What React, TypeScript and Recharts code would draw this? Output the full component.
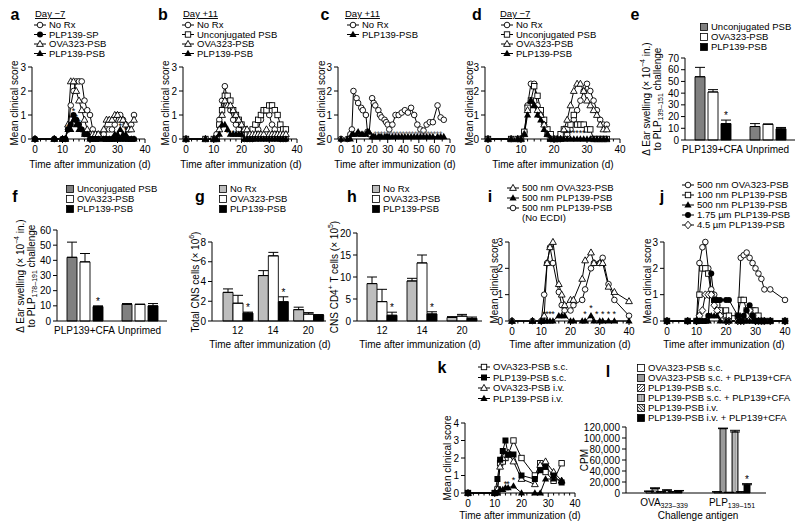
import React from 'react'
import { ComposedChart, BarChart, Line, Bar, Scatter, XAxis, YAxis, ErrorBar, LabelList } from 'recharts'

const FONT = '"Liberation Sans", Arial, sans-serif'
const DARK = '#808080'
const LIGHT = '#bdbdbd'

// ---- a : Day -7 ----
const aDays = [0, 7, 10, 11, 12, 13, 14, 15, 16, 17, 18, 19, 20, 21, 22, 23, 25, 26, 27, 28, 29, 30, 31, 32, 33, 34, 35, 36]
const aNoRx = [0, 0, 0, 0, 0.4, 1.4, 2.0, 2.4, 2.4, 2.4, 1.6, 1.2, 1.0, 0.4, 0.2, 0.2, 0.2, 0.4, 0.4, 0.4, 0.6, 1.0, 1.0, 0.8, 0.6, 0.4, 0.6, 1.0]
const aSP = [0, 0, 0, 0, 0.4, 0.6, 1.0, 0.8, 0.6, 0.4, 0.2, 0.2, 0, 0, 0, 0, 0, 0, 0, 0, 0, 0, 0, 0, 0, 0, 0, 0]
const aOva = [0, 0, 0, 0, 0.6, 2.4, 2.4, 2.0, 1.6, 1.2, 0.8, 0.4, 0.2, 0.2, 0.2, 0.2, 0.4, 0.8, 0.8, 0.8, 1.0, 1.0, 0.8, 0.8, 0.6, 0.4, 0.4, 0.8]
const aPlp = [0, 0, 0, 0, 0.4, 0.4, 0.8, 0.6, 0.4, 0.4, 0.2, 0.2, 0, 0, 0, 0, 0, 0, 0, 0, 0.2, 0.2, 0.4, 0.2, 0.2, 0, 0, 0]
const aStarDays = [12, 13, 14, 15, 16, 31, 33]
const aStarY = [0.55, 0.9, 1.2, 0.95, 0.75, 0.6, 0.4]

// ---- b : Day +11 ----
const bDays = [0, 7, 10, 11, 12, 13, 14, 15, 16, 17, 18, 19, 20, 21, 22, 23, 24, 25, 26, 27, 28, 29, 30, 31, 32, 33, 34, 35, 36]
const bNoRx = [0, 0, 0, 0.2, 0.8, 1.6, 2.2, 1.6, 1.2, 0.8, 0.6, 0.4, 0.2, 0, 0, 0, 0, 0.2, 0.4, 0.8, 1.2, 1.2, 1.0, 0.6, 0.4, 0.2, 0, 0, 0]
const bUnc = [0, 0, 0, 0, 0.6, 1.2, 1.8, 1.8, 1.6, 1.2, 1.0, 0.8, 0.6, 0.4, 0.2, 0.2, 0.4, 0.6, 0.8, 1.0, 1.2, 1.2, 1.4, 1.4, 1.2, 1.0, 0.6, 0.4, 0.4]
const bOva = [0, 0, 0, 0, 0.4, 1.0, 1.6, 1.4, 1.4, 1.2, 1.0, 0.8, 0.6, 0.4, 0.4, 0.2, 0.2, 0.2, 0.2, 0.2, 0.2, 0.4, 0.2, 0.2, 0.2, 0.2, 0.2, 0.2, 0.2]
const bPlp = [0, 0, 0, 0, 0.2, 0.6, 0.6, 0.4, 0.2, 0.2, 0.2, 0.2, 0.2, 0, 0, 0, 0, 0, 0, 0, 0, 0, 0, 0, 0, 0, 0, 0, 0]
const bStarDays = [15, 17]
const bStarY = [0.3, 0.3]

// ---- c : Day +11, long course ----
const cDays = [0, 4, 6, 7, 8, 10, 11, 13, 14, 16, 17, 18, 20, 21, 22, 24, 25, 26, 28, 29, 30, 31, 33, 35, 37, 39, 41, 43, 45, 47, 49, 51, 53, 55, 57, 59, 62, 64, 66]
const cNoRx = [0, 0, 0.2, 0.4, 2.0, 1.7, 1.5, 1.3, 1.2, 1.0, 0.3, 0.2, 1.7, 1.5, 1.4, 1.2, 1.0, 0.9, 0.8, 0.7, 0.6, 0.4, 0.6, 1.0, 1.0, 1.1, 1.2, 1.1, 1.3, 1.0, 0.6, 0.4, 0.35, 0.6, 0.7, 0.7, 1.4, 0.9, 0.8]
const cPlp = [0, 0, 0, 0.2, 0.2, 0.2, 0.3, 0.2, 0.2, 0.2, 0.3, 0.3, 0.1, 0.1, 0.1, 0.1, 0.1, 0.1, 0.1, 0.1, 0.1, 0.1, 0.1, 0.1, 0.1, 0.1, 0.1, 0.1, 0.1, 0.1, 0.1, 0.1, 0.1, 0.1, 0.1, 0.1, 0.1, 0.1, 0.1]
const cStarDays = [22, 24, 26, 28, 30, 32, 34, 36, 38, 40, 42, 44, 46, 48, 50, 52, 54, 56, 58, 60, 62, 64]
const cStarY = [0.25, 0.25, 0.25, 0.25, 0.25, 0.25, 0.25, 0.25, 0.25, 0.25, 0.25, 0.25, 0.25, 0.25, 0.25, 0.25, 0.25, 0.25, 0.25, 0.25, 0.25, 0.25]

// ---- d : Day -7 ----
const dDays = [0, 7, 9, 10, 11, 12, 13, 14, 15, 16, 17, 18, 19, 20, 21, 22, 23, 24, 25, 26, 27, 28, 29, 30, 31, 32, 33, 34, 35, 36]
const dNoRx = [0, 0, 0, 0, 0.3, 1.4, 2.3, 2.3, 1.4, 1.0, 0.6, 0.2, 0, 0, 0, 0, 0.2, 0.2, 0.4, 0.8, 1.2, 1.6, 2.0, 2.3, 2.0, 1.6, 1.2, 0.8, 0.6, 0.6]
const dUnc = [0, 0, 0, 0, 0.3, 1.3, 1.6, 2.2, 1.8, 1.2, 0.8, 0.4, 0.2, 0, 0, 0.2, 0.4, 0.4, 0.6, 1.0, 0.6, 0.6, 0.6, 0.4, 0.4, 0, 0, 0, 0, 0]
const dOva = [0, 0, 0, 0, 0.2, 1.2, 1.6, 1.4, 1.2, 1.0, 0.6, 0.2, 0, 0, 0, 0, 0.4, 0.8, 1.4, 2.0, 2.3, 2.3, 2.0, 1.6, 1.4, 1.2, 1.0, 0.6, 0.4, 0.4]
const dPlp = [0, 0, 0, 0, 0.2, 1.0, 1.6, 1.4, 1.0, 0.8, 0.4, 0.2, 0, 0, 0, 0, 0, 0, 0, 0, 0, 0, 0, 0, 0, 0, 0, 0, 0, 0]
const dStarDays = [24, 25, 26, 27, 28, 29]
const dStarY = [0.3, 0.3, 0.3, 0.3, 0.3, 0.3]

// ---- e : DTH, PLP139-151 challenge ----
const eCats = ['PLP139+CFA', 'Unprimed']
const eUnc = [54, 11.5]
const eOva = [41, 13.5]
const ePlp = [14, 9.5]
const eUncErr = [8, 2.5]
const eOvaErr = [2, 0]
const ePlpErr = [3, 1.2]
const eSig = [true, false]

// ---- f : DTH, PLP178-191 challenge ----
const fUnc = [42, 11]
const fOva = [39, 11]
const fPlp = [9.5, 10]
const fUncErr = [10, 0.5]
const fOvaErr = [5.5, 0]
const fPlpErr = [0.5, 1.5]
const fSig = [true, false]

// ---- g / h : CNS infiltrates ----
const ghCats = ['12', '14', '20']
const gNoRx = [2.9, 4.6, 1.15]
const gOva = [1.8, 6.6, 0.7]
const gPlp = [0.8, 1.95, 0.6]
const gNoRxErr = [0.35, 0.5, 0.25]
const gOvaErr = [0.8, 0.35, 0.15]
const gPlpErr = [0.1, 0.5, 0.05]
const ghSig = [true, true, false]
const hNoRx = [8.5, 9.1, 0.8]
const hOva = [4.4, 13.2, 1.1]
const hPlp = [1.3, 1.6, 0.6]
const hNoRxErr = [1.5, 0.6, 0.2]
const hOvaErr = [2.8, 1.8, 0.4]
const hPlpErr = [0.7, 0.5, 0.3]

// ---- i ----
const iDays = [0, 7, 10, 11, 12, 13, 14, 16, 17, 18, 20, 21, 24, 25, 27, 28, 30, 31, 33, 35, 40]
const iOva = [0, 0, 0, 0.2, 2.2, 2.8, 3.0, 1.4, 1.0, 0.6, 0.8, 0.8, 1.6, 2.3, 2.6, 2.2, 2.2, 2.2, 1.3, 1.1, 0.75]
const iPlp = [0, 0, 0, 0, 0, 0, 0, 0.2, 0.2, 0.2, 0, 0, 0, 0, 0.2, 0, 0, 0, 0, 0, 0]
const iNoEcdi = [0, 0, 0, 1.0, 2.2, 2.8, 2.2, 1.1, 0.6, 0.4, 0.4, 0.6, 0.8, 1.2, 2.0, 2.2, 2.2, 2.4, 1.4, 0.8, 0.2]
const iStarDays = [11, 12, 13, 14, 25, 27, 29, 31, 33, 35]
const iStarY = [0.3, 0.3, 0.3, 0.3, 0.3, 0.55, 0.3, 0.3, 0.3, 0.3]

// ---- j ----
const jDays = [0, 7, 10, 11, 12, 13, 14, 15, 16, 17, 18, 20, 21, 24, 25, 26, 27, 28, 29, 30, 31, 32, 33, 35, 40]
const jOva = [0, 0, 0, 2.2, 2.8, 3.0, 2.0, 1.2, 1.0, 0.6, 0.4, 0.2, 0, 0, 2.4, 2.5, 2.6, 2.4, 2.2, 2.0, 1.8, 1.6, 1.2, 1.2, 0.8]
const jP100 = [0, 0, 0, 1.0, 2.0, 2.0, 1.8, 1.0, 0.8, 0.6, 0.4, 0.4, 0.2, 0.2, 0.8, 0.8, 0.4, 0.4, 0.4, 0.4, 0.2, 0, 0, 0, 0]
const jP500 = [0, 0, 0, 0, 0, 0, 0, 0.2, 0.2, 0.2, 0, 0, 0, 0, 0, 0, 0, 0, 0, 0, 0, 0, 0, 0, 0]
const jP175 = [0, 0, 0, 0, 0, 0, 0.2, 1.8, 0.8, 0.8, 0.8, 0.8, 0.8, 0.2, 0, 0.2, 0.4, 0.6, 0.2, 0, 0, 0, 0, 0, 0]
const jP45 = [0, 0, 0, 0.2, 0.4, 1.0, 1.0, 1.0, 0.6, 0.4, 0.2, 0, 0, 0, 0, 0, 0.2, 0.4, 0.2, 0, 0, 0, 0, 0, 0]

// ---- k ----
const kDays = [0, 10, 11, 12, 13, 14, 15, 17, 20, 25, 27, 29, 32, 35]
const kOvaSc = [0, 0, 0.2, 1.7, 1.8, 2.0, 2.2, 3.0, 2.0, 1.0, 1.7, 1.2, 0.7, 1.7]
const kPlpSc = [0, 0, 0.8, 1.9, 2.4, 3.0, 2.2, 2.2, 1.0, 0.8, 1.3, 1.5, 1.0, 0.6]
const kOvaIv = [0, 0, 0.2, 1.5, 2.0, 2.2, 2.3, 1.8, 0.8, 0.5, 1.6, 1.8, 1.2, 0.7]
const kPlpIv = [0, 0, 0, 0.2, 0.2, 0.3, 0.3, 0.4, 0, 0, 0, 0.8, 0.8, 0.7]
const kStarDays = [14, 15, 17]
const kStarY = [0.6, 0.6, 0.8]

// ---- l : proliferation ----
const lCats = ['OVA', 'PLP']
const lOvaSc = [3000, 2000]
const lOvaScCfa = [8000, 117000]
const lPlpSc = [2000, 1000]
const lPlpScCfa = [5000, 111000]
const lPlpIv = [2000, 2000]
const lPlpIvCfa = [4000, 15000]
const lOvaScErr = [500, 300]
const lOvaScCfaErr = [1500, 1000]
const lPlpScErr = [400, 300]
const lPlpScCfaErr = [800, 3000]
const lPlpIvErr = [400, 300]
const lPlpIvCfaErr = [600, 2000]
const lSig = [false, true]

function Marker({ shape, cx, cy }: { shape: string; cx: number; cy: number }) {
  const sw = 0.9
  switch (shape) {
    case 'circle':
      return <circle cx={cx} cy={cy} r={2.8} fill="#fff" stroke="#000" strokeWidth={sw} />
    case 'dot':
      return <circle cx={cx} cy={cy} r={3} fill="#000" />
    case 'tri':
      return <path d={`M${cx},${cy - 3.6}L${cx + 3.4},${cy + 2.4}L${cx - 3.4},${cy + 2.4}Z`} fill="#fff" stroke="#000" strokeWidth={sw} />
    case 'triF':
      return <path d={`M${cx},${cy - 3.8}L${cx + 3.6},${cy + 2.6}L${cx - 3.6},${cy + 2.6}Z`} fill="#000" />
    case 'sq':
      return <rect x={cx - 2.7} y={cy - 2.7} width={5.4} height={5.4} fill="#fff" stroke="#000" strokeWidth={sw} />
    case 'sqF':
      return <rect x={cx - 3} y={cy - 3} width={6} height={6} fill="#000" />
    case 'dia':
      return <path d={`M${cx},${cy - 3.8}L${cx + 3.3},${cy}L${cx},${cy + 3.8}L${cx - 3.3},${cy}Z`} fill="#fff" stroke="#000" strokeWidth={sw} />
    default:
      return null
  }
}

const dotOf = (shape: string) => (p: any) => {
  if (p.cx == null || p.cy == null || p.value == null) return <g key={`n-${shape}-${p.index}`} />
  return (
    <g key={`${shape}-${p.index}`}>
      <Marker shape={shape} cx={p.cx} cy={p.cy} />
    </g>
  )
}

function XTick(props: any) {
  const { x, y, payload, major = 10 } = props
  const v = payload.value
  const big = v % major === 0
  return (
    <g>
      <line x1={x} x2={x} y1={y} y2={y + (big ? 4 : 2.5)} stroke="#000" strokeWidth={1} />
      {big && (
        <text x={x} y={y + 13.5} textAnchor="middle" fontSize={10} fontFamily={FONT} fill="#000">
          {v}
        </text>
      )}
    </g>
  )
}

function YTick(props: any) {
  const { x, y, payload, fmt } = props
  return (
    <g>
      <line x1={x - 4} x2={x} y1={y} y2={y} stroke="#000" strokeWidth={1} />
      <text x={x - 6} y={y + 3.5} textAnchor="end" fontSize={10} fontFamily={FONT} fill="#000">
        {fmt ? fmt(payload.value) : payload.value}
      </text>
    </g>
  )
}

function CatTick(props: any) {
  const { x, y, payload, render } = props
  return (
    <text x={x} y={y + 12.5} textAnchor="middle" fontSize={10} fontFamily={FONT} fill="#000">
      {render ? render(payload.value) : payload.value}
    </text>
  )
}

const StarShape = (p: any) =>
  p.cx == null ? (
    <g />
  ) : (
    <text x={p.cx} y={p.cy + 4} textAnchor="middle" fontSize={9} fontFamily={FONT} fill={p.fill || '#000'}>
      *
    </text>
  )

type Series = { key: string; shape: string; values: number[] }

function ClinicalPanel(props: {
  x: number; y: number; w: number; h: number; xMax: number; minor: number; yMax: number
  days: number[]; series: Series[]; starDays: number[]; starY: number[]; starFill?: string
}) {
  const { x, y, w, h, xMax, minor, yMax, days, series, starDays, starY, starFill = '#000' } = props
  const data = days.map((d, i) => {
    const r: any = { day: d }
    series.forEach((s) => (r[s.key] = s.values[i]))
    return r
  })
  const stars = starDays.map((d, i) => ({ day: d, sy: starY[i] }))
  const xTicks: number[] = []
  for (let t = 0; t <= xMax; t += minor) xTicks.push(t)
  const yTicks: number[] = []
  for (let t = 0; t <= yMax; t += 1) yTicks.push(t)
  return (
    <div style={{ position: 'absolute', left: x - 40, top: y - 8 }}>
      <ComposedChart width={w + 48} height={h + 38} data={data} margin={{ top: 8, right: 8, left: 0, bottom: 0 }}>
        <XAxis dataKey="day" type="number" domain={[0, xMax]} ticks={xTicks} interval={0} padding={{ left: 3, right: 0 }}
          height={30} tickSize={0} tickMargin={0} tickLine={false} axisLine={{ stroke: '#000' }} tick={<XTick />} />
        <YAxis type="number" domain={[0, yMax]} ticks={yTicks} interval={0} width={40} tickSize={0} tickMargin={0}
          tickLine={false} axisLine={{ stroke: '#000' }} tick={<YTick />} />
        {series.map((s) => (
          <Line key={s.key} dataKey={s.key} type="linear" stroke="#000" strokeWidth={1} dot={dotOf(s.shape)}
            activeDot={false} isAnimationActive={false} />
        ))}
        {stars.length > 0 && <Scatter data={stars} dataKey="sy" fill={starFill} shape={StarShape} isAnimationActive={false} />}
      </ComposedChart>
    </div>
  )
}

type BarSpec = { key: string; fill: string; values: number[]; errs: number[]; sig?: boolean[] }

const starLabel = (sig: boolean[], errs: number[]) => (p: any) => {
  const vb = p.viewBox || p
  const i = p.index
  if (i == null || !sig[i]) return null
  const val = Number(p.value)
  const pxPer = val ? vb.height / val : 0
  const top = vb.y - errs[i] * pxPer
  return (
    <text key={`st-${i}`} x={vb.x + vb.width / 2} y={top - 1} textAnchor="middle" fontSize={10} fontFamily={FONT} fill="#000">
      *
    </text>
  )
}

function BarPanel(props: {
  x: number; y: number; w: number; h: number; padLeft: number; yMax: number; yTicks: number[]
  cats: string[]; bars: BarSpec[]; barSize: number; barGap: number; fmt?: (v: number) => string; catLabel?: (c: string) => any
}) {
  const { x, y, w, h, padLeft, yMax, yTicks, cats, bars, barSize, barGap, fmt, catLabel } = props
  const data = cats.map((c, i) => {
    const r: any = { cat: c }
    bars.forEach((b) => {
      r[b.key] = b.values[i]
      r[b.key + 'E'] = [0, b.errs[i]]
    })
    return r
  })
  return (
    <div style={{ position: 'absolute', left: x - 45, top: y - 8 }}>
      <BarChart width={w + 53} height={h + 38} data={data} margin={{ top: 8, right: 8, left: 0, bottom: 0 }}
        barGap={barGap} barCategoryGap={0}>
        <XAxis dataKey="cat" type="category" padding={{ left: padLeft, right: 0 }} height={30} tickSize={0} tickMargin={0}
          tickLine={false} axisLine={{ stroke: '#000' }} interval={0} tick={<CatTick render={catLabel} />} />
        <YAxis type="number" domain={[0, yMax]} ticks={yTicks} interval={0} width={45} tickSize={0} tickMargin={0}
          tickLine={false} axisLine={{ stroke: '#000' }} tick={<YTick fmt={fmt} />} />
        {bars.map((b) => (
          <Bar key={b.key} dataKey={b.key} fill={b.fill} stroke="#000" strokeWidth={0.9} barSize={barSize} isAnimationActive={false}>
            <ErrorBar dataKey={b.key + 'E'} width={5} stroke="#000" strokeWidth={1} direction="y" />
            {b.sig && <LabelList dataKey={b.key} content={starLabel(b.sig, b.errs)} />}
          </Bar>
        ))}
      </BarChart>
    </div>
  )
}

function Leg({ x, y, shape, text, dx = 9 }: { x: number; y: number; shape: string; text: string; dx?: number }) {
  return (
    <g>
      <line x1={x - 6} x2={x + 6} y1={y} y2={y} stroke="#000" strokeWidth={1} />
      <Marker shape={shape} cx={x} cy={y} />
      <text x={x + dx} y={y + 3.3} fontSize={9.5}>{text}</text>
    </g>
  )
}

function BoxLeg({ x, y, fill, text }: { x: number; y: number; fill: string; text: string }) {
  return (
    <g>
      <rect x={x - 3.5} y={y - 3.5} width={7} height={7} fill={fill} stroke="#000" strokeWidth={0.8} />
      <text x={x + 7} y={y + 3.3} fontSize={9.5}>{text}</text>
    </g>
  )
}

function VTitle({ x, y, children }: { x: number; y: number; children: any }) {
  return (
    <text x={x} y={y} transform={`rotate(-90 ${x} ${y})`} textAnchor="middle" fontSize={10} dominantBaseline="central">
      {children}
    </text>
  )
}

function Letter({ x, y, t }: { x: number; y: number; t: string }) {
  return (
    <text x={x} y={y} fontSize={16} fontWeight="bold" textAnchor="middle">
      {t}
    </text>
  )
}

const TIME = 'Time after immunization (d)'
const fmtK = (v: number) => v.toLocaleString('en-US')

export default function App() {
  return (
    <div style={{ position: 'absolute', left: 0, top: 0, width: 800, height: 530, background: '#fff', overflow: 'hidden' }}>
      {/* top row */}
      <ClinicalPanel x={32} y={67} w={113} h={72} xMax={40} minor={2} yMax={3} days={aDays}
        series={[
          { key: 'noRx', shape: 'circle', values: aNoRx },
          { key: 'ova', shape: 'tri', values: aOva },
          { key: 'sp', shape: 'dot', values: aSP },
          { key: 'plp', shape: 'triF', values: aPlp },
        ]}
        starDays={aStarDays} starY={aStarY} />
      <ClinicalPanel x={183} y={67} w={114} h={72} xMax={40} minor={2} yMax={3} days={bDays}
        series={[
          { key: 'noRx', shape: 'circle', values: bNoRx },
          { key: 'unc', shape: 'sq', values: bUnc },
          { key: 'ova', shape: 'tri', values: bOva },
          { key: 'plp', shape: 'triF', values: bPlp },
        ]}
        starDays={bStarDays} starY={bStarY} />
      <ClinicalPanel x={338} y={67} w={112} h={72} xMax={70} minor={5} yMax={3} days={cDays}
        series={[
          { key: 'noRx', shape: 'circle', values: cNoRx },
          { key: 'plp', shape: 'triF', values: cPlp },
        ]}
        starDays={cStarDays} starY={cStarY} starFill="#666" />
      <ClinicalPanel x={485} y={67} w={135} h={72} xMax={40} minor={2} yMax={3} days={dDays}
        series={[
          { key: 'noRx', shape: 'circle', values: dNoRx },
          { key: 'unc', shape: 'sq', values: dUnc },
          { key: 'ova', shape: 'tri', values: dOva },
          { key: 'plp', shape: 'triF', values: dPlp },
        ]}
        starDays={dStarDays} starY={dStarY} />
      <BarPanel x={685} y={58} w={110} h={82} padLeft={0} yMax={70} yTicks={[0, 10, 20, 30, 40, 50, 60, 70]} cats={eCats}
        barSize={10} barGap={3}
        bars={[
          { key: 'unc', fill: DARK, values: eUnc, errs: eUncErr },
          { key: 'ova', fill: '#fff', values: eOva, errs: eOvaErr },
          { key: 'plp', fill: '#000', values: ePlp, errs: ePlpErr, sig: eSig },
        ]} />

      {/* middle row */}
      <BarPanel x={57} y={230} w={110} h={91} padLeft={0} yMax={60} yTicks={[0, 10, 20, 30, 40, 50, 60]} cats={eCats}
        barSize={10} barGap={3}
        bars={[
          { key: 'unc', fill: DARK, values: fUnc, errs: fUncErr },
          { key: 'ova', fill: '#fff', values: fOva, errs: fOvaErr },
          { key: 'plp', fill: '#000', values: fPlp, errs: fPlpErr, sig: fSig },
        ]} />
      <BarPanel x={212} y={242} w={114} h={79} padLeft={8} yMax={8} yTicks={[0, 2, 4, 6, 8]} cats={ghCats}
        barSize={10} barGap={0}
        bars={[
          { key: 'noRx', fill: LIGHT, values: gNoRx, errs: gNoRxErr },
          { key: 'ova', fill: '#fff', values: gOva, errs: gOvaErr },
          { key: 'plp', fill: '#000', values: gPlp, errs: gPlpErr, sig: ghSig },
        ]} />
      <BarPanel x={357} y={233} w={125} h={88} padLeft={5} yMax={20} yTicks={[0, 5, 10, 15, 20]} cats={ghCats}
        barSize={10} barGap={0}
        bars={[
          { key: 'noRx', fill: LIGHT, values: hNoRx, errs: hNoRxErr },
          { key: 'ova', fill: '#fff', values: hOva, errs: hOvaErr },
          { key: 'plp', fill: '#000', values: hPlp, errs: hPlpErr, sig: ghSig },
        ]} />
      <ClinicalPanel x={509} y={242} w={120} h={79} xMax={40} minor={2} yMax={3} days={iDays}
        series={[
          { key: 'noE', shape: 'circle', values: iNoEcdi },
          { key: 'ova', shape: 'tri', values: iOva },
          { key: 'plp', shape: 'triF', values: iPlp },
        ]}
        starDays={iStarDays} starY={iStarY} />
      <ClinicalPanel x={664} y={242} w={121} h={79} xMax={40} minor={2} yMax={3} days={jDays}
        series={[
          { key: 'ova', shape: 'circle', values: jOva },
          { key: 'p100', shape: 'sq', values: jP100 },
          { key: 'p45', shape: 'dia', values: jP45 },
          { key: 'p175', shape: 'dot', values: jP175 },
          { key: 'p500', shape: 'triF', values: jP500 },
        ]}
        starDays={[]} starY={[]} />

      {/* bottom row */}
      <ClinicalPanel x={465} y={423} w={110} h={70} xMax={40} minor={2} yMax={4} days={kDays}
        series={[
          { key: 'ovaSc', shape: 'sq', values: kOvaSc },
          { key: 'ovaIv', shape: 'tri', values: kOvaIv },
          { key: 'plpSc', shape: 'sqF', values: kPlpSc },
          { key: 'plpIv', shape: 'triF', values: kPlpIv },
        ]}
        starDays={kStarDays} starY={kStarY} />
      <BarPanel x={626} y={427} w={140} h={66} padLeft={4} yMax={120000}
        yTicks={[0, 20000, 40000, 60000, 80000, 100000, 120000]} cats={lCats} fmt={fmtK}
        barSize={6} barGap={0}
        catLabel={(c: string) =>
          c === 'OVA' ? (
            <>OVA<tspan fontSize={7} dy={2.5}>323–339</tspan></>
          ) : (
            <>PLP<tspan fontSize={7} dy={2.5}>139–151</tspan></>
          )
        }
        bars={[
          { key: 'a', fill: '#fff', values: lOvaSc, errs: lOvaScErr },
          { key: 'b', fill: '#9a9a9a', values: lOvaScCfa, errs: lOvaScCfaErr },
          { key: 'c', fill: 'url(#hatchA)', values: lPlpSc, errs: lPlpScErr },
          { key: 'd', fill: 'url(#stripeV)', values: lPlpScCfa, errs: lPlpScCfaErr },
          { key: 'e', fill: 'url(#hatchB)', values: lPlpIv, errs: lPlpIvErr },
          { key: 'f', fill: '#000', values: lPlpIvCfa, errs: lPlpIvCfaErr, sig: lSig },
        ]} />

      {/* text overlay */}
      <svg width={800} height={530} style={{ position: 'absolute', left: 0, top: 0, pointerEvents: 'none' }}
        fontFamily={FONT} fill="#000">
        <defs>
          <pattern id="hatchA" patternUnits="userSpaceOnUse" width={3} height={3}>
            <rect width={3} height={3} fill="#fff" />
            <path d="M-1,1 l2,-2 M0,3 l3,-3 M2,4 l2,-2" stroke="#000" strokeWidth={0.7} />
          </pattern>
          <pattern id="hatchB" patternUnits="userSpaceOnUse" width={3} height={3}>
            <rect width={3} height={3} fill="#ddd" />
            <path d="M-1,2 l2,2 M0,0 l3,3 M2,-1 l2,2" stroke="#000" strokeWidth={0.7} />
          </pattern>
          <pattern id="stripeV" patternUnits="userSpaceOnUse" width={2.4} height={3}>
            <rect width={2.4} height={3} fill="#c8c8c8" />
            <line x1={0.6} x2={0.6} y1={0} y2={3} stroke="#555" strokeWidth={0.7} />
          </pattern>
        </defs>

        {/* a */}
        <Letter x={15} y={20} t="a" />
        <text x={35} y={17} fontSize={9.5} style={{ textDecoration: 'underline' }}>Day −7</text>
        <Leg x={40} y={25} shape="circle" text="No Rx" />
        <Leg x={40} y={34.5} shape="dot" text="PLP139-SP" />
        <Leg x={40} y={44} shape="tri" text="OVA323-PSB" />
        <Leg x={40} y={53.5} shape="triF" text="PLP139-PSB" />
        <VTitle x={14} y={103}>Mean clinical score</VTitle>
        <text x={90} y={168} fontSize={10} textAnchor="middle">{TIME}</text>

        {/* b */}
        <Letter x={163} y={20} t="b" />
        <text x={183} y={17} fontSize={9.5} style={{ textDecoration: 'underline' }}>Day +11</text>
        <Leg x={188} y={25} shape="circle" text="No Rx" />
        <Leg x={188} y={34.5} shape="sq" text="Unconjugated PSB" />
        <Leg x={188} y={44} shape="tri" text="OVA323-PSB" />
        <Leg x={188} y={53.5} shape="triF" text="PLP139-PSB" />
        <VTitle x={165} y={103}>Mean clinical score</VTitle>
        <text x={241} y={168} fontSize={10} textAnchor="middle">{TIME}</text>

        {/* c */}
        <Letter x={325} y={20} t="c" />
        <text x={345} y={17} fontSize={9.5} style={{ textDecoration: 'underline' }}>Day +11</text>
        <Leg x={353} y={25} shape="circle" text="No Rx" />
        <Leg x={353} y={34.5} shape="triF" text="PLP139-PSB" />
        <VTitle x={321} y={103}>Mean clinical score</VTitle>
        <text x={395} y={168} fontSize={10} textAnchor="middle">{TIME}</text>

        {/* d */}
        <Letter x={477} y={20} t="d" />
        <text x={500} y={17} fontSize={9.5} style={{ textDecoration: 'underline' }}>Day −7</text>
        <Leg x={507} y={25} shape="circle" text="No Rx" />
        <Leg x={507} y={34.5} shape="sq" text="Unconjugated PSB" />
        <Leg x={507} y={44} shape="tri" text="OVA323-PSB" />
        <Leg x={507} y={53.5} shape="triF" text="PLP139-PSB" />
        <VTitle x={469} y={103}>Mean clinical score</VTitle>
        <text x={553} y={168} fontSize={10} textAnchor="middle">{TIME}</text>

        {/* e */}
        <Letter x={635} y={20} t="e" />
        <BoxLeg x={704} y={27} fill={DARK} text="Unconjugated PSB" />
        <BoxLeg x={704} y={37} fill="#fff" text="OVA323-PSB" />
        <BoxLeg x={704} y={47} fill="#000" text="PLP139-PSB" />
        <VTitle x={646} y={99}>
          Δ Ear swelling (× 10<tspan fontSize={7} dy={-4}>−4</tspan><tspan dy={4}> in.)</tspan>
        </VTitle>
        <VTitle x={657} y={99}>
          to PLP<tspan fontSize={7} dy={2.5}>139–151</tspan><tspan dy={-2.5}> challenge</tspan>
        </VTitle>

        {/* f */}
        <Letter x={15} y={202} t="f" />
        <BoxLeg x={70} y={189} fill={DARK} text="Unconjugated PSB" />
        <BoxLeg x={70} y={199} fill="#fff" text="OVA323-PSB" />
        <BoxLeg x={70} y={209} fill="#000" text="PLP139-PSB" />
        <VTitle x={20} y={276}>
          Δ Ear swelling (× 10<tspan fontSize={7} dy={-4}>−4</tspan><tspan dy={4}> in.)</tspan>
        </VTitle>
        <VTitle x={31} y={276}>
          to PLP<tspan fontSize={7} dy={2.5}>178–191</tspan><tspan dy={-2.5}> challenge</tspan>
        </VTitle>

        {/* g */}
        <Letter x={200} y={202} t="g" />
        <BoxLeg x={223} y={189} fill={LIGHT} text="No Rx" />
        <BoxLeg x={223} y={199} fill="#fff" text="OVA323-PSB" />
        <BoxLeg x={223} y={209} fill="#000" text="PLP139-PSB" />
        <VTitle x={195} y={282}>
          Total CNS cells (× 10<tspan fontSize={7} dy={-4}>6</tspan><tspan dy={4}>)</tspan>
        </VTitle>
        <text x={270} y={348} fontSize={10} textAnchor="middle">{TIME}</text>

        {/* h */}
        <Letter x={352} y={202} t="h" />
        <BoxLeg x={376} y={189} fill={LIGHT} text="No Rx" />
        <BoxLeg x={376} y={199} fill="#fff" text="OVA323-PSB" />
        <BoxLeg x={376} y={209} fill="#000" text="PLP139-PSB" />
        <VTitle x={334} y={277}>
          CNS CD4<tspan fontSize={7} dy={-4}>+</tspan><tspan dy={4}> T cells (× 10</tspan>
          <tspan fontSize={7} dy={-4}>5</tspan><tspan dy={4}>)</tspan>
        </VTitle>
        <text x={420} y={348} fontSize={10} textAnchor="middle">{TIME}</text>

        {/* i */}
        <Letter x={490} y={202} t="i" />
        <Leg x={513} y={188} shape="tri" text="500 nm OVA323-PSB" />
        <Leg x={513} y={198} shape="triF" text="500 nm PLP139-PSB" />
        <Leg x={513} y={208} shape="circle" text="500 nm PLP139-PSB" />
        <text x={522} y={221} fontSize={9.5}>(No ECDI)</text>
        <VTitle x={494} y={281}>Mean clinical score</VTitle>
        <text x={570} y={348} fontSize={10} textAnchor="middle">{TIME}</text>

        {/* j */}
        <Letter x={662} y={202} t="j" />
        <Leg x={688} y={185} shape="circle" text="500 nm OVA323-PSB" />
        <Leg x={688} y={195} shape="sq" text="100 nm PLP139-PSB" />
        <Leg x={688} y={205} shape="triF" text="500 nm PLP139-PSB" />
        <Leg x={688} y={215} shape="dot" text="1.75 µm PLP139-PSB" />
        <Leg x={688} y={225} shape="dia" text="4.5 µm PLP139-PSB" />
        <VTitle x={647} y={281}>Mean clinical score</VTitle>
        <text x={724} y={348} fontSize={10} textAnchor="middle">{TIME}</text>

        {/* k */}
        <Letter x={442} y={373} t="k" />
        <Leg x={484} y={367} shape="sq" text="OVA323-PSB s.c." />
        <Leg x={484} y={377.5} shape="sqF" text="PLP139-PSB s.c." />
        <Leg x={484} y={388} shape="tri" text="OVA323-PSB i.v." />
        <Leg x={484} y={398.5} shape="triF" text="PLP139-PSB i.v." />
        <VTitle x={447} y={458}>Mean clinical score</VTitle>
        <text x={520} y={519} fontSize={10} textAnchor="middle">{TIME}</text>

        {/* l */}
        <Letter x={608} y={377} t="l" />
        <BoxLeg x={641} y={368} fill="#fff" text="OVA323-PSB s.c." />
        <BoxLeg x={641} y={378} fill="#9a9a9a" text="OVA323-PSB s.c. + PLP139+CFA" />
        <BoxLeg x={641} y={388} fill="url(#hatchA)" text="PLP139-PSB s.c." />
        <BoxLeg x={641} y={398} fill="url(#stripeV)" text="PLP139-PSB s.c. + PLP139+CFA" />
        <BoxLeg x={641} y={408} fill="url(#hatchB)" text="PLP139-PSB i.v." />
        <BoxLeg x={641} y={418} fill="#000" text="PLP139-PSB i.v. + PLP139+CFA" />
        <VTitle x={584} y={460}>CPM</VTitle>
        <text x={698} y={519} fontSize={10} textAnchor="middle">Challenge antigen</text>
      </svg>
    </div>
  )
}
